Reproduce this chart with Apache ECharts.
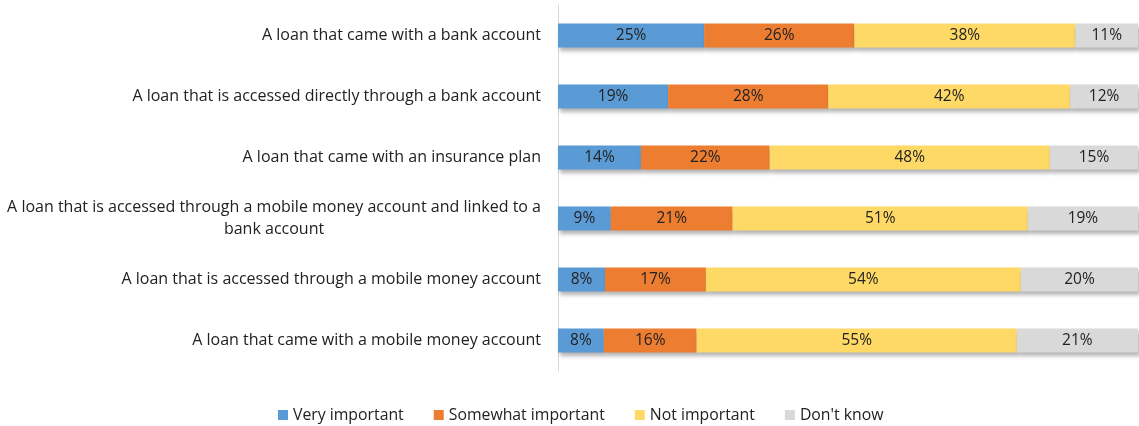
<!DOCTYPE html>
<html><head><meta charset="utf-8">
<script src="https://cdn.jsdelivr.net/npm/echarts@6/dist/echarts.min.js"></script>
<style>html,body{margin:0;padding:0;background:#fff}#c{width:1139px;height:426px}</style>
</head><body><div id="c"></div>
<script>
const categories = [
  "A loan that came with a bank account",
  "A loan that is accessed directly through a bank account",
  "A loan that came with an insurance plan",
  "A loan that is accessed through a mobile money account and linked to a\nbank account",
  "A loan that is accessed through a mobile money account",
  "A loan that came with a mobile money account"
];
const seriesNames = ["Very important", "Somewhat important", "Not important", "Don't know"];
const veryImportant = [25.2, 19.0, 14.3, 9.1, 8.1, 7.9];
const somewhatImportant = [25.9, 27.6, 22.2, 21.0, 17.4, 16.0];
const notImportant = [38.1, 41.7, 48.3, 50.9, 54.3, 55.2];
const dontKnow = [10.8, 11.7, 15.2, 19.0, 20.2, 20.9];
const colors = ["#5B9BD5", "#ED7D31", "#FFD966", "#D9D9D9"];
const FONT = "Open Sans";

const allData = [veryImportant, somewhatImportant, notImportant, dontKnow];
const chart = echarts.init(document.getElementById('c'), null, {renderer: 'canvas'});
chart.setOption({
  animation: false,
  textStyle: {fontFamily: FONT},
  grid: {left: 558, right: 1, top: 5, bottom: 55, containLabel: false},
  legend: {
    top: 402, left: 273,
    itemWidth: 10, itemHeight: 10, itemGap: 30, itemTextGap: 4,
    icon: 'rect',
    textStyle: {fontFamily: FONT, fontSize: 15.8, color: '#222'},
    data: seriesNames
  },
  xAxis: {type: 'value', min: 0, max: 100, show: false},
  yAxis: {
    type: 'category', data: categories, inverse: true,
    axisLine: {show: true, lineStyle: {color: '#D9D9D9', width: 1}},
    axisTick: {show: false},
    axisLabel: {
      margin: 17, fontSize: 16, color: '#222', fontFamily: FONT, align: 'right', lineHeight: 22,
      formatter: v => v.split('\n').map(s => '{c|' + s + '}').join('\n'),
      rich: {c: {align: 'center', fontSize: 16, color: '#222', fontFamily: FONT, lineHeight: 22}}
    }
  },
  series: seriesNames.map((n, i) => ({
    name: n, type: 'bar', stack: 'total', barWidth: 24,
    data: allData[i],
    itemStyle: {color: colors[i], shadowBlur: 4, shadowOffsetX: 2, shadowOffsetY: 3, shadowColor: 'rgba(0,0,0,0.3)'},
    label: {show: true, position: 'inside', fontSize: 15.5, color: '#222', fontFamily: FONT,
      formatter: p => Math.round(p.value) + '%'}
  }))
});
</script></body></html>
